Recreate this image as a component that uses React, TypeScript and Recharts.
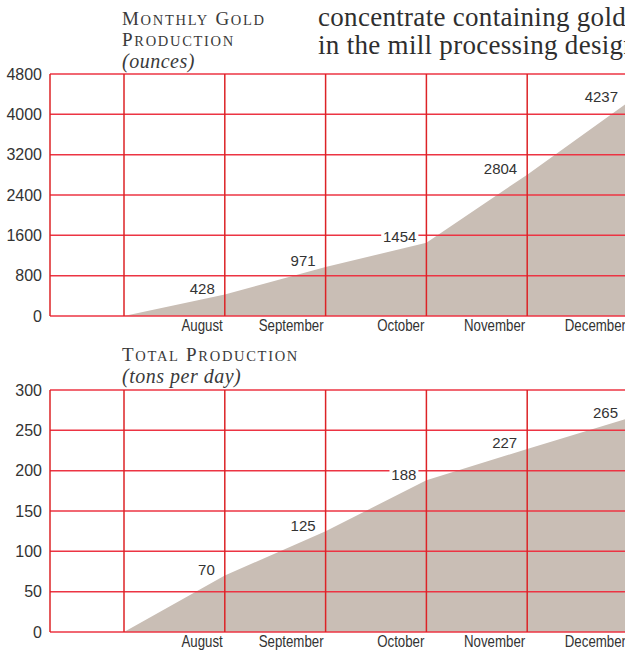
import { Area, AreaChart, CartesianGrid, LabelList, Line, XAxis, YAxis } from "recharts";

const months = ["", "August", "September", "October", "November", "December"];
const goldOunces = [0, 428, 971, 1454, 2804, 4237];
const tonsPerDay = [0, 70, 125, 188, 227, 265];
const goldTicks = [0, 800, 1600, 2400, 3200, 4000, 4800];
const tonsTicks = [0, 50, 100, 150, 200, 250, 300];

const goldData = months.map((m, i) => ({ month: m, value: goldOunces[i] }));
const tonsData = months.map((m, i) => ({ month: m, value: tonsPerDay[i] }));

const SANS = "'Liberation Sans', Arial, sans-serif";
const SERIF = "'Liberation Serif', 'DejaVu Serif', serif";
const FILL = "#c9beb5";
const RED_H = "#ec3443";
const RED_V = "#dc2326";
const INK = "#333";

// month names are set in a condensed face, so squeeze the regular one
function MonthTick(props: any) {
  const { x, y, payload } = props;
  return (
    <text
      transform={`translate(${x - 2},${y}) scale(0.83,1)`}
      dy="0.71em"
      textAnchor="end"
      fill={INK}
      fontSize={16}
      fontFamily={SANS}
    >
      {payload.value}
    </text>
  );
}

function NumberTick(props: any) {
  const { x, y, payload } = props;
  return (
    <text x={x} y={y} dy="0.36em" textAnchor="end" fill={INK} fontSize={16} fontFamily={SANS}>
      {payload.value}
    </text>
  );
}

function ValueLabel(props: any) {
  const { x, y, value, index } = props;
  if (!index) return null;
  const text = String(value);
  const w = text.length * 8.3 + 4;
  const tx = x - 10;
  const ty = y - 6;
  return (
    <g>
      <rect x={tx - w + 2} y={ty - 7} width={w} height={14} fill="#fff" />
      <text x={tx} y={ty} dy="0.36em" textAnchor="end" fill={INK} fontSize={15} fontFamily={SANS}>
        {text}
      </text>
    </g>
  );
}

function Panel({ data, ticks, max, top, height, marginTop }: any) {
  return (
    <div style={{ position: "absolute", left: 0, top }}>
      <AreaChart width={648} height={height} data={data} margin={{ top: marginTop, right: 0, bottom: 0, left: 0 }}>
        <XAxis
          dataKey="month"
          interval={0}
          padding={{ left: 74, right: 20 }}
          axisLine={false}
          tickLine={false}
          tickSize={4}
          tickMargin={0}
          height={24}
          tick={<MonthTick />}
        />
        <YAxis
          domain={[0, max]}
          ticks={ticks}
          interval={0}
          width={50}
          axisLine={false}
          tickLine={false}
          tick={<NumberTick />}
        />
        <Area type="linear" dataKey="value" stroke="none" fill={FILL} fillOpacity={1} isAnimationActive={false} />
        <CartesianGrid vertical={false} stroke={RED_H} strokeWidth={1.5} zIndex={150} />
        <CartesianGrid horizontal={false} stroke={RED_V} strokeWidth={1.5} zIndex={150} />
        <Line type="linear" dataKey="value" stroke="none" dot={false} activeDot={false} isAnimationActive={false}>
          <LabelList dataKey="value" content={<ValueLabel />} />
        </Line>
      </AreaChart>
    </div>
  );
}

const capBig: any = { fontSize: 19 };
const capSmall: any = { fontSize: 14.5 };
const headStyle: any = { fontSize: 19, lineHeight: "20px", letterSpacing: 1.7, color: "#3a3a3a", fontFamily: SERIF };
const italStyle: any = { fontStyle: "italic", fontSize: 20, lineHeight: "20px", letterSpacing: 0.5, color: "#3a3a3a", fontFamily: SERIF };

function SmallCaps({ words }: { words: string }) {
  return (
    <div style={headStyle}>
      {words.split(" ").map((w, i) => (
        <span key={i}>
          {i > 0 ? " " : ""}
          <span style={capBig}>{w[0].toUpperCase()}</span>
          <span style={capSmall}>{w.slice(1).toUpperCase()}</span>
        </span>
      ))}
    </div>
  );
}

export default function App() {
  return (
    <div style={{ position: "absolute", left: 0, top: 0, width: 625, height: 656, overflow: "hidden", background: "#fff" }}>
      <div style={{ position: "absolute", left: 318, top: 3, whiteSpace: "nowrap", fontFamily: SERIF, fontSize: 27, lineHeight: "28px", color: "#2e2e2e", letterSpacing: 0.3 }}>
        <div>concentrate containing gold</div>
        <div>in the mill processing design</div>
      </div>
      <div style={{ position: "absolute", left: 122, top: 9, whiteSpace: "nowrap" }}>
        <SmallCaps words="Monthly Gold" />
        <SmallCaps words="Production" />
        <div style={italStyle}>(ounces)</div>
      </div>
      <div style={{ position: "absolute", left: 122, top: 345, whiteSpace: "nowrap" }}>
        <SmallCaps words="Total Production" />
        <div style={italStyle}>(tons per day)</div>
      </div>
      <Panel data={goldData} ticks={goldTicks} max={4800} top={0} height={340} marginTop={74} />
      <Panel data={tonsData} ticks={tonsTicks} max={300} top={340} height={316} marginTop={50} />
    </div>
  );
}
